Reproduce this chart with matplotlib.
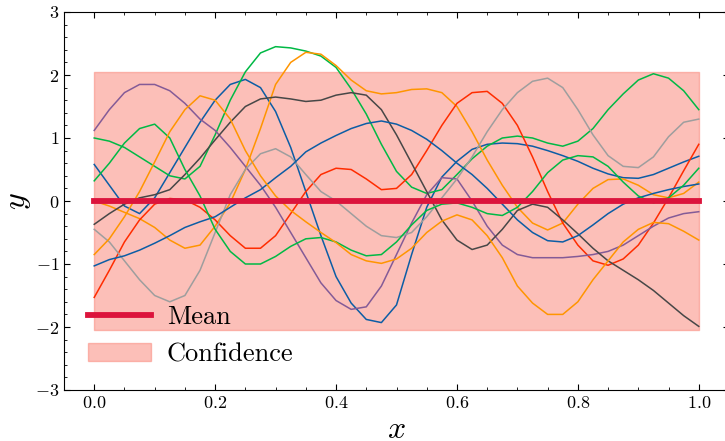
import numpy as np
import matplotlib
matplotlib.use("Agg")
import matplotlib.pyplot as plt

plt.rcParams['font.family'] = 'serif'
plt.rcParams['font.serif'] = ['cmr10']
plt.rcParams['mathtext.fontset'] = 'cm'
plt.rcParams['axes.formatter.use_mathtext'] = True

# sample grid (x) and the ten prior draws
x = np.linspace(0, 1, 41)

blue_a = [0.58, 0.25, -0.08, -0.2, 0.05, 0.45, 0.85, 1.25, 1.6, 1.85, 1.93, 1.8, 1.42, 0.85, 0.15,
          -0.55, -1.2, -1.62, -1.88, -1.93, -1.65, -0.85, -0.1, 0.38, 0.63, 0.82, 0.9, 0.92, 0.91,
          0.87, 0.8, 0.72, 0.63, 0.52, 0.43, 0.37, 0.36, 0.42, 0.52, 0.62, 0.71]
green_a = [1.0, 0.95, 0.85, 0.7, 0.55, 0.4, 0.35, 0.55, 1.05, 1.6, 2.05, 2.35, 2.45, 2.43, 2.38,
           2.3, 2.12, 1.78, 1.38, 0.9, 0.47, 0.22, 0.12, 0.18, 0.42, 0.67, 0.87, 1.0, 1.03,
           1.0, 0.92, 0.87, 0.95, 1.15, 1.45, 1.7, 1.92, 2.02, 1.95, 1.75, 1.45]
orange_a = [0.0, -0.08, -0.18, -0.28, -0.42, -0.62, -0.75, -0.7, -0.4, -0.03, 0.5, 1.15, 1.85, 2.2,
            2.36, 2.33, 2.15, 1.92, 1.75, 1.7, 1.72, 1.77, 1.78, 1.72, 1.5, 1.1, 0.65, 0.25,
            -0.1, -0.35, -0.46, -0.35, -0.05, 0.2, 0.34, 0.35, 0.25, 0.1, 0.05, 0.12, 0.3]
red = [-1.53, -1.1, -0.65, -0.3, -0.05, 0.04, 0.02, -0.1, -0.3, -0.55, -0.75, -0.75, -0.55, -0.2,
       0.15, 0.42, 0.52, 0.5, 0.35, 0.18, 0.2, 0.42, 0.8, 1.2, 1.55, 1.72, 1.74, 1.55, 1.2, 0.7,
       0.15, -0.35, -0.7, -0.95, -1.02, -0.92, -0.7, -0.35, 0.05, 0.48, 0.9]
purple = [1.12, 1.45, 1.72, 1.85, 1.85, 1.75, 1.55, 1.3, 1.12, 0.85, 0.55, 0.25, -0.1, -0.5, -0.9,
          -1.3, -1.58, -1.72, -1.68, -1.35, -0.85, -0.35, 0.1, 0.37, 0.35, 0.0, -0.4, -0.7, -0.85,
          -0.9, -0.9, -0.9, -0.88, -0.85, -0.8, -0.7, -0.55, -0.4, -0.27, -0.2, -0.17]
dark_gray = [-0.37, -0.2, -0.05, 0.05, 0.1, 0.18, 0.42, 0.68, 0.97, 1.25, 1.5, 1.62, 1.65, 1.62,
             1.58, 1.6, 1.68, 1.72, 1.68, 1.45, 1.05, 0.6, 0.15, -0.3, -0.62, -0.77, -0.7, -0.45,
             -0.15, -0.05, -0.1, -0.3, -0.52, -0.75, -0.95, -1.1, -1.25, -1.42, -1.62, -1.82, -1.99]
gray = [-0.45, -0.65, -0.95, -1.25, -1.5, -1.6, -1.5, -1.1, -0.5, 0.1, 0.5, 0.75, 0.83, 0.7, 0.42,
        0.15, 0.0, -0.2, -0.4, -0.55, -0.58, -0.5, -0.25, 0.05, 0.35, 0.7, 1.1, 1.45, 1.72, 1.9,
        1.95, 1.8, 1.45, 1.05, 0.72, 0.55, 0.53, 0.7, 1.02, 1.25, 1.3]
blue_b = [-1.03, -0.93, -0.87, -0.78, -0.67, -0.55, -0.42, -0.33, -0.25, -0.1, 0.05, 0.18, 0.37,
          0.55, 0.78, 0.92, 1.04, 1.15, 1.23, 1.27, 1.22, 1.12, 0.98, 0.8, 0.6, 0.42, 0.2, -0.05,
          -0.3, -0.5, -0.63, -0.65, -0.55, -0.38, -0.2, -0.05, 0.05, 0.12, 0.18, 0.23, 0.27]
green_b = [0.32, 0.6, 0.92, 1.15, 1.22, 1.0, 0.5, 0.08, -0.45, -0.8, -1.0, -1.0, -0.88, -0.72,
           -0.6, -0.58, -0.65, -0.78, -0.87, -0.85, -0.65, -0.38, -0.15, -0.05, -0.03, -0.1, -0.2,
           -0.23, -0.1, 0.15, 0.45, 0.65, 0.72, 0.7, 0.55, 0.3, 0.08, -0.03, 0.05, 0.25, 0.52]
orange_b = [-0.85, -0.6, -0.25, 0.15, 0.62, 1.1, 1.45, 1.67, 1.6, 1.3, 0.8, 0.4, 0.08, -0.15, -0.33,
            -0.5, -0.66, -0.85, -0.95, -0.99, -0.92, -0.75, -0.5, -0.32, -0.22, -0.3, -0.55, -0.9,
            -1.35, -1.62, -1.8, -1.8, -1.6, -1.25, -0.95, -0.65, -0.45, -0.34, -0.36, -0.48, -0.62]

samples = [blue_a, green_a, orange_a, red, purple, dark_gray, gray, blue_b, green_b, orange_b]
colors = ['#0C5DA5', '#00B945', '#FF9500', '#FF2C00', '#845B97', '#474747', '#9e9e9e']

mean = np.zeros_like(x)
band = 2.05

fig = plt.figure(figsize=(7.25, 4.41), dpi=100)
ax = fig.add_axes([64 / 725, 51 / 441, 665 / 725, 378 / 441])

ax.fill_between(x, mean - band, mean + band, color='salmon', alpha=0.5, label='Confidence')
for i, s in enumerate(samples):
    ax.plot(x, s, color=colors[i % len(colors)], lw=1.1)
ax.plot(x, mean, color='crimson', lw=4.2, label='Mean')

ax.set_xlim(-0.05, 1.05)
ax.set_ylim(-3, 3)
ax.set_xlabel('$x$', fontsize=23)
ax.set_ylabel('$y$', fontsize=23)
ax.xaxis.set_label_coords(0.5, -0.07)
ax.yaxis.set_label_coords(-0.046, 0.5)
ax.minorticks_on()
ax.tick_params(which='both', direction='in', top=True, right=True, labelsize=13)
ax.tick_params(which='major', length=4.5)
ax.tick_params(which='minor', length=2.5)

h, l = ax.get_legend_handles_labels()
ax.legend(h[::-1], l[::-1], loc='lower left', frameon=False, fontsize=19,
          handlelength=2.4, handletextpad=0.6)

fig.savefig('out.png', dpi=100)
